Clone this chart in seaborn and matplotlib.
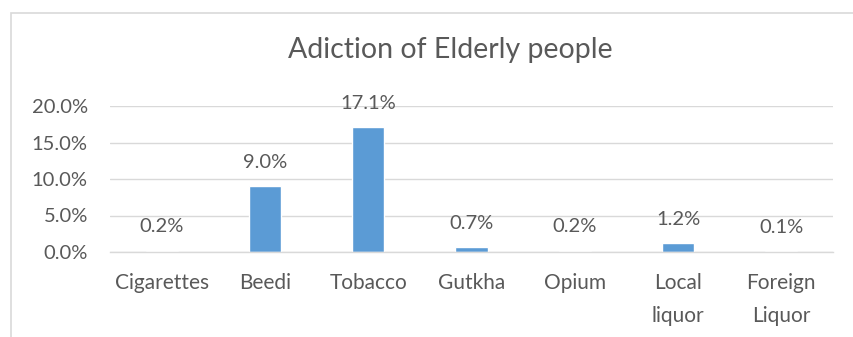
import matplotlib
matplotlib.use("Agg")
import matplotlib.pyplot as plt
import seaborn as sns
import pandas as pd
from matplotlib.patches import Rectangle
from matplotlib.ticker import FuncFormatter

categories = ["Cigarettes", "Beedi", "Tobacco", "Gutkha", "Opium", "Local\nliquor", "Foreign\nLiquor"]
values = [0.002, 0.090, 0.171, 0.007, 0.002, 0.012, 0.001]
labels = ["0.2%", "9.0%", "17.1%", "0.7%", "0.2%", "1.2%", "0.1%"]
yticks = [0.0, 0.05, 0.10, 0.15, 0.20]
title = "Adiction of Elderly people"

sns.set_style("white")
plt.rcParams['font.family'] = ['Lato', 'DejaVu Sans']
txt = "#595959"
grid = "#D9D9D9"

fig = plt.figure(figsize=(8.54, 3.37), dpi=100)
W, H = 854, 337
ax = fig.add_axes([110 / W, 85 / H, (833 - 110) / W, (252 - 106) / H])

df = pd.DataFrame({"cat": categories, "val": values})
sns.barplot(data=df, x="cat", y="val", color="#5B9BD5", width=0.31, ax=ax, saturation=1)

ax.set_ylim(0, 0.2)
ax.set_yticks(yticks)
ax.yaxis.set_major_formatter(FuncFormatter(lambda v, p: f"{v*100:.1f}%"))
ax.set_xlim(-0.5, len(categories) - 0.5)
ax.grid(axis="y", color=grid, linewidth=1)
ax.set_axisbelow(True)
for s in ["top", "right", "left"]:
    ax.spines[s].set_visible(False)
ax.spines["bottom"].set_color(grid)
ax.spines["bottom"].set_linewidth(1)
ax.tick_params(axis="y", length=0, colors=txt, labelsize=14.5, pad=16)
ax.tick_params(axis="x", length=0, colors=txt, labelsize=15, pad=15)
for t in ax.get_xticklabels():
    t.set_linespacing(1.8)
    t.set_verticalalignment("top")
ax.set_xlabel("")
ax.set_ylabel("")

ax.bar_label(ax.containers[0], labels=labels, padding=11, fontsize=14.5, color=txt)

fig.text(450 / W, 1 - 50 / H, title, ha="center", va="center", fontsize=20.5, color=txt)

fig.patches.append(Rectangle((11 / W, -0.1), 1.2, 1 - 13 / H + 0.1, transform=fig.transFigure,
                             fill=False, edgecolor=grid, linewidth=1.2))

fig.savefig("out.png", dpi=100)
